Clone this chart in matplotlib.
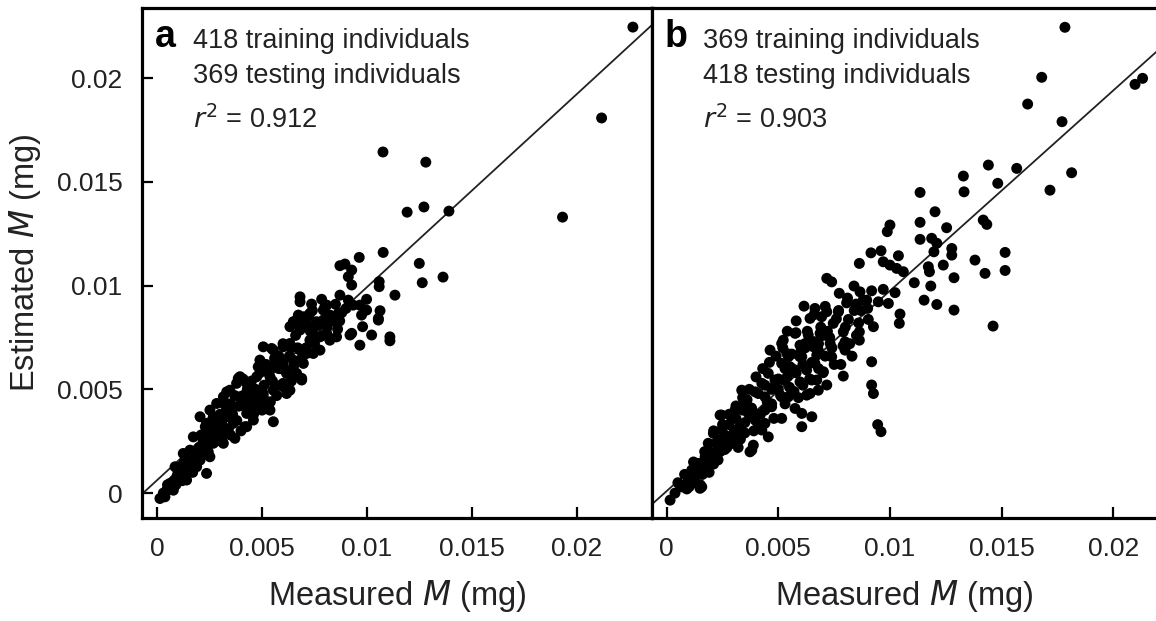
# Estimated vs measured mass, cross-validation in two directions (panels a and b)

import numpy as np
import matplotlib.pyplot as plt

plt.rcParams['font.family'] = ['Liberation Sans', 'DejaVu Sans']

# panel a: trained on 418, tested on 369
meas_a = [0.02266, 0.02117, 0.01931, 0.01076, 0.01280, 0.01191, 0.01271, 0.01390, 0.01362, 0.01077,
          0.00963, 0.00871, 0.00895, 0.00927, 0.00911, 0.00927, 0.01249, 0.01263, 0.01058, 0.01058,
          0.01133, 0.00871, 0.00681, 0.00681, 0.00736, 0.00784, 0.00808, 0.00911, 0.00934, 0.00966,
          0.00998, 0.00998, 0.00974, 0.01062, 0.01054, 0.00927, 0.00979, 0.01022, 0.01109, 0.00863,
          0.00823, 0.00792, 0.00728, 0.00673, 0.00649, 0.00705, 0.00760, 0.00792, 0.00681, 0.00744,
          0.00808, 0.00855, 0.01109, 0.00966, 0.00919, 0.01054, 0.00665, 0.00633, 0.00728, 0.00823,
          0.00776, 0.00728, 0.00601, 0.00554, 0.00506, 0.00633, 0.00681, 0.00744, 0.00776, 0.00649,
          0.00697, 0.00601, 0.00554, 0.00490, 0.00482, 0.00538, 0.00617, 0.00649, 0.00689, 0.00601,
          0.00554, 0.00617, 0.00506, 0.00459, 0.00427, 0.00475, 0.00395, 0.00379, 0.00347, 0.00395,
          0.00443, 0.00506, 0.00538, 0.00554, 0.00475, 0.00427, 0.00459, 0.00427, 0.00371, 0.00347,
          0.00316, 0.00284, 0.00332, 0.00300, 0.00363, 0.00268, 0.00236, 0.00205, 0.00236, 0.00284,
          0.00332, 0.00316, 0.00268, 0.00220, 0.00173, 0.00157, 0.00205, 0.00252, 0.00236, 0.00141,
          0.00189, 0.00109, 0.00094, 0.00141, 0.00062, 0.00046, 0.00014, 0.00038, 0.00078, 0.00546,
          0.00689, 0.00419, 0.00387, 0.00332, 0.00252, 0.00125, 0.00086, 0.00030, 0.00109, 0.00157,
          0.00205, 0.00244, 0.00601, 0.00633, 0.00665, 0.00713, 0.00300, 0.00363, 0.00427, 0.00475,
          0.00506, 0.00050, 0.00080, 0.00120, 0.00170, 0.00190, 0.00230, 0.00260, 0.00280, 0.00310,
          0.00350, 0.00390, 0.00410, 0.00450, 0.00520, 0.00570, 0.00590, 0.00640,
          # dense band
          0.0006, 0.0009, 0.0012, 0.0010, 0.0014, 0.0017, 0.0016, 0.0019, 0.0013, 0.0020,
          0.0018, 0.0022, 0.0024, 0.0021, 0.0024, 0.0026, 0.0028, 0.0027, 0.0029, 0.0025,
          0.0030, 0.0031, 0.0023, 0.0033, 0.0035, 0.0034, 0.0036, 0.0038, 0.0039, 0.0037,
          0.0032, 0.0040, 0.0035, 0.0041, 0.0043, 0.0044, 0.0046, 0.0048, 0.0045, 0.0047,
          0.0049, 0.0041, 0.0050, 0.0051, 0.0053, 0.0055, 0.0057, 0.0052, 0.0056, 0.0058,
          0.0059, 0.0054, 0.0061, 0.0063, 0.0065, 0.0062, 0.0067, 0.0064, 0.0069, 0.0066,
          0.0071, 0.0073, 0.0075, 0.0077, 0.0079, 0.0072, 0.0081, 0.0084, 0.0086, 0.0088,
          0.0068, 0.0070, 0.0074, 0.0076, 0.0080, 0.0082, 0.0085, 0.0087, 0.0090, 0.0060,
          0.0058]
est_a = [0.02246, 0.01808, 0.01330, 0.01644, 0.01595, 0.01354, 0.01379, 0.01359, 0.01041, 0.01160,
         0.01136, 0.01096, 0.01104, 0.01075, 0.01043, 0.01003, 0.01107, 0.01014, 0.01019, 0.00995,
         0.00954, 0.00954, 0.00946, 0.00922, 0.00911, 0.00934, 0.00906, 0.00930, 0.00906, 0.00906,
         0.00934, 0.00882, 0.00858, 0.00879, 0.00834, 0.00770, 0.00802, 0.00762, 0.00753, 0.00866,
         0.00858, 0.00882, 0.00866, 0.00858, 0.00826, 0.00826, 0.00826, 0.00834, 0.00786, 0.00794,
         0.00770, 0.00753, 0.00734, 0.00713, 0.00762, 0.00842, 0.00834, 0.00802, 0.00802, 0.00737,
         0.00753, 0.00737, 0.00705, 0.00689, 0.00705, 0.00721, 0.00689, 0.00673, 0.00689, 0.00641,
         0.00625, 0.00625, 0.00609, 0.00641, 0.00609, 0.00561, 0.00577, 0.00561, 0.00553, 0.00529,
         0.00496, 0.00480, 0.00480, 0.00480, 0.00529, 0.00561, 0.00561, 0.00529, 0.00496, 0.00464,
         0.00448, 0.00432, 0.00400, 0.00344, 0.00416, 0.00384, 0.00352, 0.00320, 0.00264, 0.00416,
         0.00464, 0.00432, 0.00368, 0.00352, 0.00336, 0.00368, 0.00336, 0.00368, 0.00304, 0.00288,
         0.00296, 0.00240, 0.00240, 0.00255, 0.00271, 0.00207, 0.00191, 0.00175, 0.00095, 0.00159,
         0.00127, 0.00127, 0.00079, 0.00063, 0.00047, 0.00014, -0.00026, -0.00018, 0.00014, 0.00697,
         0.00545, 0.00320, 0.00553, 0.00488, 0.00400, 0.00191, 0.00127, 0.00000, 0.00079, 0.00127,
         0.00159, 0.00199, 0.00512, 0.00496, 0.00577, 0.00673, 0.00288, 0.00352, 0.00416, 0.00448,
         0.00464, 0.00040, 0.00060, 0.00100, 0.00150, 0.00170, 0.00210, 0.00260, 0.00310, 0.00330,
         0.00390, 0.00420, 0.00470, 0.00500, 0.00590, 0.00650, 0.00600, 0.00700,
         # dense band
         0.0002, 0.0004, 0.0006, 0.0010, 0.0011, 0.0010, 0.0017, 0.0015, 0.0015, 0.0022,
         0.0020, 0.0019, 0.0023, 0.0028, 0.0030, 0.0027, 0.0025, 0.0033, 0.0031, 0.0034,
         0.0038, 0.0027, 0.0032, 0.0040, 0.0043, 0.0031, 0.0038, 0.0035, 0.0042, 0.0047,
         0.0043, 0.0030, 0.0028, 0.0046, 0.0050, 0.0041, 0.0038, 0.0044, 0.0054, 0.0050,
         0.0058, 0.0055, 0.0040, 0.0052, 0.0058, 0.0054, 0.0047, 0.0062, 0.0065, 0.0060,
         0.0052, 0.0044, 0.0059, 0.0066, 0.0061, 0.0071, 0.0070, 0.0054, 0.0065, 0.0076,
         0.0070, 0.0078, 0.0072, 0.0081, 0.0076, 0.0085, 0.0080, 0.0083, 0.0079, 0.0087,
         0.0080, 0.0085, 0.0088, 0.0075, 0.0090, 0.0085, 0.0091, 0.0083, 0.0089, 0.0072,
         0.0066]

# panel b: trained on 369, tested on 418
meas_b = [0.01784, 0.01680, 0.01617, 0.01771, 0.02098, 0.02132, 0.01814, 0.01717, 0.01568, 0.01441,
          0.01483, 0.01329, 0.01332, 0.01418, 0.01434, 0.01277, 0.01277, 0.01381, 0.01516, 0.01516,
          0.01426, 0.01287, 0.01287, 0.01462, 0.01135, 0.01202, 0.01135, 0.01254, 0.01000, 0.00988,
          0.01135, 0.01187, 0.01210, 0.01197, 0.01239, 0.01172, 0.01177, 0.01109, 0.01183, 0.01153,
          0.01210, 0.00915, 0.00960, 0.01038, 0.00863, 0.00970, 0.01000, 0.01030, 0.01060, 0.00717,
          0.00739, 0.00773, 0.00839, 0.00866, 0.00918, 0.00970, 0.01023, 0.00806, 0.00848, 0.00896,
          0.00948, 0.00993, 0.00615, 0.00664, 0.00717, 0.00769, 0.00814, 0.00642, 0.00694, 0.00746,
          0.00903, 0.00926, 0.01045, 0.01042, 0.00579, 0.00634, 0.00687, 0.00791, 0.00863, 0.00863,
          0.00522, 0.00597, 0.00657, 0.00732, 0.00799, 0.00538, 0.00597, 0.00672, 0.00739, 0.00799,
          0.00918, 0.00552, 0.00627, 0.00702, 0.00791, 0.00522, 0.00597, 0.00672, 0.00717, 0.00918,
          0.00926, 0.00945, 0.00960, 0.00567, 0.00642, 0.00015, 0.00037, 0.00067, 0.00097, 0.00157,
          0.00112, 0.00142, 0.00172, 0.00216, 0.00186, 0.00231, 0.00261, 0.00209, 0.00246, 0.00291,
          0.00314, 0.00381, 0.00388, 0.00246, 0.00291, 0.00306, 0.00351, 0.00366, 0.00396, 0.00426,
          0.00455, 0.00440, 0.00336, 0.00396, 0.00426, 0.00455, 0.00485, 0.00515, 0.00515, 0.00470,
          0.00440, 0.00545, 0.00575, 0.00605, 0.00650, 0.00605, 0.00627, 0.00679, 0.00650, 0.00575,
          0.00515, 0.00463, 0.00515, 0.00575, 0.00620, 0.00679, 0.00664, 0.00605, 0.00545, 0.00149,
          0.00373, 0.00239, 0.00050, 0.00080, 0.00120, 0.00160, 0.00200, 0.00270, 0.00330, 0.00360,
          0.00410, 0.00480, 0.00540, 0.00560, 0.00700,
          # dense band
          0.0006, 0.0009, 0.0011, 0.0013, 0.0014, 0.0016, 0.0018, 0.0019, 0.0021, 0.0022,
          0.0024, 0.0026, 0.0027, 0.0028, 0.0030, 0.0031, 0.0033, 0.0034, 0.0035, 0.0036,
          0.0038, 0.0039, 0.0041, 0.0042, 0.0044, 0.0045, 0.0047, 0.0048, 0.0050, 0.0051,
          0.0053, 0.0055, 0.0056, 0.0058, 0.0059, 0.0061, 0.0062, 0.0064, 0.0066, 0.0068,
          0.0069, 0.0071, 0.0072, 0.0074, 0.0076, 0.0078, 0.0080, 0.0082, 0.0084, 0.0086,
          0.0088, 0.0090,
          0.0010, 0.0012, 0.0015, 0.0017, 0.0019, 0.0021, 0.0023, 0.0025, 0.0026, 0.0028,
          0.0029, 0.0031, 0.0032, 0.0034, 0.0035, 0.0037, 0.0038, 0.0040, 0.0041, 0.0043,
          0.0044, 0.0046, 0.0047, 0.0049, 0.0050, 0.0052, 0.0053, 0.0054, 0.0056, 0.0057,
          0.0058, 0.0060, 0.0061, 0.0063, 0.0065, 0.0066, 0.0068, 0.0070, 0.0071, 0.0073,
          0.0075, 0.0077, 0.0079, 0.0081, 0.0083, 0.0085, 0.0087]
est_b = [0.02245, 0.02004, 0.01875, 0.01790, 0.01970, 0.01999, 0.01544, 0.01460, 0.01565, 0.01581,
         0.01493, 0.01528, 0.01452, 0.01316, 0.01295, 0.01179, 0.01147, 0.01123, 0.01160, 0.01073,
         0.01059, 0.01038, 0.00882, 0.00805, 0.01449, 0.01356, 0.01305, 0.01279, 0.01292, 0.01260,
         0.01223, 0.01228, 0.01204, 0.01163, 0.01099, 0.01091, 0.01067, 0.01014, 0.00998, 0.00930,
         0.00909, 0.01158, 0.01168, 0.01144, 0.01107, 0.01115, 0.01099, 0.01083, 0.01067, 0.01035,
         0.01018, 0.00963, 0.00998, 0.00970, 0.00975, 0.00982, 0.00966, 0.00917, 0.00911, 0.00930,
         0.00922, 0.00914, 0.00901, 0.00890, 0.00874, 0.00874, 0.00837, 0.00842, 0.00850, 0.00818,
         0.00837, 0.00802, 0.00863, 0.00818, 0.00773, 0.00762, 0.00770, 0.00777, 0.00777, 0.00737,
         0.00737, 0.00713, 0.00705, 0.00721, 0.00729, 0.00673, 0.00657, 0.00665, 0.00657, 0.00689,
         0.00633, 0.00609, 0.00593, 0.00585, 0.00564, 0.00545, 0.00536, 0.00545, 0.00521, 0.00521,
         0.00480, 0.00330, 0.00296, 0.00480, 0.00480, -0.00034, 0.00000, 0.00030, 0.00063, 0.00030,
         0.00111, 0.00143, 0.00175, 0.00191, 0.00240, 0.00255, 0.00223, 0.00288, 0.00304, 0.00271,
         0.00304, 0.00207, 0.00231, 0.00376, 0.00360, 0.00400, 0.00432, 0.00384, 0.00352, 0.00304,
         0.00271, 0.00336, 0.00496, 0.00488, 0.00529, 0.00577, 0.00545, 0.00464, 0.00360, 0.00416,
         0.00464, 0.00464, 0.00408, 0.00384, 0.00368, 0.00320, 0.00472, 0.00496, 0.00545, 0.00593,
         0.00625, 0.00689, 0.00721, 0.00770, 0.00721, 0.00689, 0.00625, 0.00657, 0.00657, 0.00023,
         0.00199, 0.00376, 0.00050, 0.00090, 0.00080, 0.00120, 0.00170, 0.00220, 0.00330, 0.00420,
         0.00380, 0.00510, 0.00560, 0.00600, 0.00760,
         # dense band
         0.0004, 0.0002, 0.0008, 0.0005, 0.0012, 0.0009, 0.0015, 0.0020, 0.0014, 0.0024,
         0.0020, 0.0028, 0.0024, 0.0033, 0.0029, 0.0036, 0.0026, 0.0040, 0.0034, 0.0045,
         0.0041, 0.0030, 0.0048, 0.0038, 0.0052, 0.0044, 0.0050, 0.0036, 0.0055, 0.0047,
         0.0060, 0.0051, 0.0067, 0.0058, 0.0046, 0.0062, 0.0070, 0.0055, 0.0073, 0.0060,
         0.0080, 0.0066, 0.0078, 0.0070, 0.0084, 0.0062, 0.0080, 0.0072, 0.0088, 0.0082,
         0.0093, 0.0089,
         0.0003, 0.0015, 0.0004, 0.0020, 0.0010, 0.0030, 0.0016, 0.0033, 0.0021, 0.0038,
         0.0024, 0.0042, 0.0022, 0.0046, 0.0029, 0.0050, 0.0037, 0.0056, 0.0033, 0.0060,
         0.0040, 0.0063, 0.0043, 0.0066, 0.0050, 0.0070, 0.0043, 0.0078, 0.0060, 0.0049,
         0.0083, 0.0068, 0.0052, 0.0078, 0.0063, 0.0086, 0.0072, 0.0058, 0.0090, 0.0075,
         0.0062, 0.0088, 0.0071, 0.0094, 0.0066, 0.0076, 0.0088]

# fitted lines (intercept, slope)
fit_a = (0.00062, 0.931)
fit_b = (0.00010, 0.965)

n_train = [418, 369]
n_test = [369, 418]
r2 = [0.912, 0.903]
letters = ['a', 'b']

xticks = [0, 0.005, 0.01, 0.015, 0.02]
yticks = [0, 0.005, 0.01, 0.015, 0.02]
ticklabels = ['0', '0.005', '0.01', '0.015', '0.02']

W, H = 1156, 621
fig = plt.figure(figsize=(W / 100, H / 100), dpi=100)
ax_a = fig.add_axes([142 / W, 103 / H, 510 / W, 510 / H])
ax_b = fig.add_axes([652 / W, 103 / H, 504 / W, 510 / H])

txt = '#222222'
panels = [(ax_a, meas_a, est_a, fit_a, (-0.000714, 0.02357)),
          (ax_b, meas_b, est_b, fit_b, (-0.00066, 0.02192))]

for i, (ax, xs, ys, fit, xlim) in enumerate(panels):
    ax.scatter(xs, ys, s=62, c='black', edgecolors='none', zorder=3)
    xl = np.array(xlim)
    ax.plot(xl, fit[0] + fit[1] * xl, color='#222222', lw=1.3, zorder=2)
    ax.set_xlim(xlim)
    ax.set_ylim(-0.0012, 0.02338)
    ax.set_xticks(xticks)
    ax.set_xticklabels(ticklabels)
    ax.tick_params(direction='in', length=8, width=1.6, labelsize=19,
                   labelcolor=txt, pad=14)
    for sp in ax.spines.values():
        sp.set_linewidth(2.3)
    ax.set_xlabel('Measured $\\it{M}$ (mg)', fontsize=23.5, color=txt, labelpad=12)

    w = 510 if i == 0 else 504
    ax.text(13 / w, 0.9235, letters[i], transform=ax.transAxes, fontsize=27,
            fontweight='bold', color='black')
    ax.text(51 / w, 0.9216, f'{n_train[i]} training individuals', transform=ax.transAxes,
            fontsize=19.5, color=txt)
    ax.text(51 / w, 0.853, f'{n_test[i]} testing individuals', transform=ax.transAxes,
            fontsize=19.5, color=txt)
    ax.text(51 / w, 0.765, f'$\\it{{r}}^{{2}}$ = {r2[i]}', transform=ax.transAxes,
            fontsize=19.5, color=txt)

ax_a.set_yticks(yticks)
ax_a.set_yticklabels(ticklabels)
ax_a.set_ylabel('Estimated $\\it{M}$ (mg)', fontsize=23.5, color=txt, labelpad=10)
ax_b.set_yticks([])
ax_b.spines['right'].set_visible(False)

fig.savefig('out.png', dpi=100)
